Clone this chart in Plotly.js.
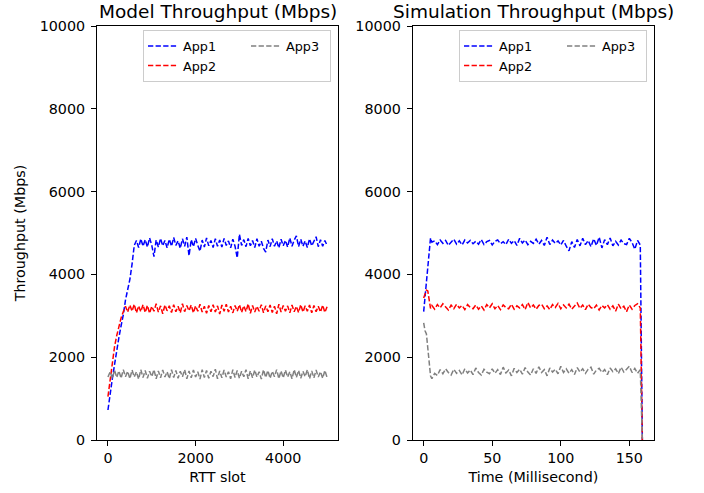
<!DOCTYPE html>
<html><head><meta charset="utf-8">
<script src="https://cdn.plot.ly/plotly-3.0.1.min.js"></script>
<style>html,body{margin:0;padding:0;background:#fff}</style>
</head><body><div id="chart" style="width:704px;height:493px"></div>
<script>
// ---- Left panel: model, sampled every 50 RTT slots ----
const rttSlots = [0,50,100,150,200,250,300,350,400,450,
500,550,600,650,700,750,800,850,900,950,
1000,1050,1100,1150,1200,1250,1300,1350,1400,1450,
1500,1550,1600,1650,1700,1750,1800,1850,1900,1950,
2000,2050,2100,2150,2200,2250,2300,2350,2400,2450,
2500,2550,2600,2650,2700,2750,2800,2850,2900,2950,
3000,3050,3100,3150,3200,3250,3300,3350,3400,3450,
3500,3550,3600,3650,3700,3750,3800,3850,3900,3950,
4000,4050,4100,4150,4200,4250,4300,4350,4400,4450,
4500,4550,4600,4650,4700,4750,4800,4850,4900,4950,
5000];
const modelApp1 = [725,1150,1480,1820,2200,2480,2760,3020,3380,3650,3880,4250,4700,
4820,4650,4860,4680,4840,4660,4880,4700,4430,4830,
4660,4870,4690,4820,4640,4850,4680,4890,4700,4810,
4630,4860,4680,4900,4450,4840,4670,4870,4700,4560,
4830,4660,4880,4690,4820,4650,4860,4680,4830,4660,
4870,4700,4810,4640,4850,4680,4400,4970,4700,4840,
4670,4870,4690,4820,4650,4860,4680,4800,4630,4540,
4830,4670,4860,4680,4810,4640,4850,4690,4820,4660,
4880,4680,4830,4930,4670,4850,4680,4810,4650,4860,
4690,4820,4910,4670,4840,4680,4820,4700];
const modelApp2 = [1047,1500,1900,2250,2520,2750,2950,3100,
3230,3090,3260,3110,3280,3070,3240,3100,3270,3080,
3250,3060,3230,3110,3290,3090,3240,3050,3260,3120,
3240,3080,3270,3100,3230,3070,3290,3100,3250,3120,
3260,3070,3240,3110,3280,3090,3230,3060,3250,3100,
3270,3090,3240,3040,3260,3110,3280,3090,3230,3070,
3250,3110,3270,3080,3240,3100,3290,3060,3250,3090,
3230,3110,3270,3070,3240,3100,3260,3080,3230,3050,
3280,3090,3250,3110,3240,3070,3260,3100,3230,3080,
3270,3090,3240,3110,3260,3070,3250,3100,3230,3090,
3260,3080,3220];
const modelApp3 = [1520,1650,1480,1690,1510,1670,1490,1700,1530,1660,
1480,1690,1520,1650,1470,1700,1510,1680,1490,1660,
1530,1700,1480,1670,1500,1690,1520,1650,1480,1700,
1510,1680,1490,1660,1530,1700,1480,1670,1500,1690,
1520,1650,1470,1700,1510,1680,1490,1660,1530,1710,
1480,1670,1500,1690,1520,1650,1480,1700,1510,1680,
1490,1660,1530,1700,1480,1670,1500,1690,1520,1650,
1470,1700,1510,1680,1490,1660,1530,1700,1480,1670,
1500,1690,1520,1650,1480,1700,1510,1680,1490,1660,
1530,1700,1480,1670,1500,1690,1520,1650,1490,1680,
1510];

// ---- Right panel: simulation, time in ms ----
const simTime = [0,1,2,3,4,5,6,8,10,12,14,16,18,20,22,24,26,28,30,32,34,36,38,40,42,44,46,48,50,
52,54,56,58,60,62,64,66,68,70,72,74,76,78,80,82,84,86,88,90,92,94,96,98,100,
102,104,106,108,110,112,114,116,118,120,122,124,126,128,130,132,134,136,138,140,
142,144,146,148,150,152,154,156,158,159.5];
const simApp1 = [3100,3450,3780,4120,4460,4880,4780,
4810,4720,4830,4750,4820,4700,4790,4850,4730,4810,
4710,4830,4760,4820,4740,4800,4730,4840,4720,4790,
4820,4710,4800,4830,4740,4790,4720,4850,4750,4820,
4700,4870,4760,4830,4720,4800,4750,4850,4730,4820,
4700,4900,4720,4830,4750,4810,4710,4820,4680,4570,
4790,4650,4840,4690,4870,4720,4820,4670,4860,4700,
4900,4640,4840,4720,4880,4690,4800,4710,4830,4740,
4720,4870,4770,4610,4820,4710,
0];
const simApp2 = [3430,3520,3620,3600,3400,3180,3250,
3160,3270,3190,3290,3200,3140,3260,3170,3280,3190,
3250,3150,3270,3200,3170,3260,3160,3240,3140,3270,
3190,3290,3170,3250,3150,3260,3200,3170,3280,3160,
3240,3190,3270,3150,3320,3190,3260,3160,3250,3280,
3170,3240,3150,3270,3200,3300,3170,3260,3190,3280,
3160,3250,3310,3180,3260,3150,3280,3200,3170,3260,
3140,3250,3190,3270,3160,3240,3110,3280,3170,3230,
3100,3260,3160,3250,3290,3190,
0];
const simApp3 = [2830,2640,2560,2200,1850,1550,1480,
1610,1560,1700,1600,1720,1630,1570,1710,1610,1680,
1570,1720,1620,1690,1580,1740,1630,1570,1710,1640,
1600,1720,1610,1700,1580,1760,1620,1690,1550,1730,
1630,1710,1590,1750,1640,1570,1720,1610,1770,1630,
1700,1550,1740,1640,1710,1600,1780,1630,1720,1610,
1700,1580,1750,1640,1720,1610,1710,1760,1590,1690,
1730,1630,1700,1580,1740,1650,1720,1600,1760,1640,
1710,1780,1630,1730,1610,1700,
0];

const seriesNames = ['App1','App2','App3'];
const seriesColors = ['#0000ff','#ff0000','#808080'];
const yTicks = [0,2000,4000,6000,8000,10000];
const modelXTicks = [0,2000,4000];
const simXTicks = [0,50,100,150];

const FONT = 'DejaVu Sans, Verdana, sans-serif';
const DASH = '5.3px,2.3px';

function mk(x, y, i, xa, ya, leg, grp) {
  return {
    type: 'scatter', mode: 'lines', x: x, y: y, name: seriesNames[i],
    xaxis: xa, yaxis: ya, legend: leg, legendgroup: grp,
    line: {color: seriesColors[i], width: 1.5, dash: DASH},
    legendwidth: i < 2 ? 58 : 39,
    hoverinfo: 'skip'
  };
}
const traces = [
  mk(rttSlots, modelApp1, 0, 'x', 'y', 'legend', 'La'),
  mk(rttSlots, modelApp2, 1, 'x', 'y', 'legend', 'La'),
  mk(rttSlots, modelApp3, 2, 'x', 'y', 'legend', 'Lb'),
  mk(simTime, simApp1, 0, 'x2', 'y2', 'legend2', 'Ra'),
  mk(simTime, simApp2, 1, 'x2', 'y2', 'legend2', 'Ra'),
  mk(simTime, simApp3, 2, 'x2', 'y2', 'legend2', 'Rb')
];

const axBase = {
  showline: true, mirror: true, linecolor: '#000', linewidth: 1,
  ticks: 'outside', ticklen: 5, tickwidth: 1, tickcolor: '#000',
  showgrid: false, zeroline: false, tickformat: 'd',
  tickfont: {family: FONT, size: 14.3, color: '#000'}
};
const legBase = {
  orientation: 'h', traceorder: 'grouped', xanchor: 'right', yanchor: 'top', y: 0.99,
  bgcolor: 'rgba(255,255,255,0.8)', bordercolor: '#cccccc', borderwidth: 1,
  font: {family: FONT, size: 12.8, color: '#000'}
};

const layout = {
  width: 704, height: 493,
  margin: {l: 97, r: 50, t: 26, b: 53, pad: 0},
  paper_bgcolor: '#fff', plot_bgcolor: '#fff',
  font: {family: FONT, color: '#000'},
  showlegend: true,
  xaxis: Object.assign({}, axBase, {domain: [0, 0.4327], range: [-250, 5250], tickvals: modelXTicks,
    anchor: 'y', title: {text: 'RTT slot', font: {family: FONT, size: 14.3, color: '#000'}, standoff: 6}}),
  yaxis: Object.assign({}, axBase, {domain: [0, 1], range: [0, 10000], tickvals: yTicks, anchor: 'x',
    ticklabelstandoff: 3,
    title: {text: 'Throughput (Mbps)', font: {family: FONT, size: 14.3, color: '#000'}, standoff: 10}}),
  xaxis2: Object.assign({}, axBase, {domain: [0.5668, 1], range: [-8, 168], tickvals: simXTicks,
    anchor: 'y2', title: {text: 'Time (Millisecond)', font: {family: FONT, size: 14.3, color: '#000'}, standoff: 6}}),
  yaxis2: Object.assign({}, axBase, {domain: [0, 1], range: [0, 10000], tickvals: yTicks, anchor: 'x2',
    ticklabelstandoff: 3}),
  legend: Object.assign({}, legBase, {x: 0.4201}),
  legend2: Object.assign({}, legBase, {x: 0.9874}),
  annotations: [
    {text: 'Model Throughput (Mbps)', xref: 'x domain', yref: 'paper', x: 0.5, y: 1.036,
     xanchor: 'center', yanchor: 'middle', showarrow: false, font: {family: FONT, size: 18.5, color: '#000'}},
    {text: 'Simulation Throughput (Mbps)', xref: 'x2 domain', yref: 'paper', x: 0.5, y: 1.036,
     xanchor: 'center', yanchor: 'middle', showarrow: false, font: {family: FONT, size: 18.5, color: '#000'}}
  ]
};

Plotly.newPlot('chart', traces, layout, {displayModeBar: false, staticPlot: true});
</script>
</body></html>
